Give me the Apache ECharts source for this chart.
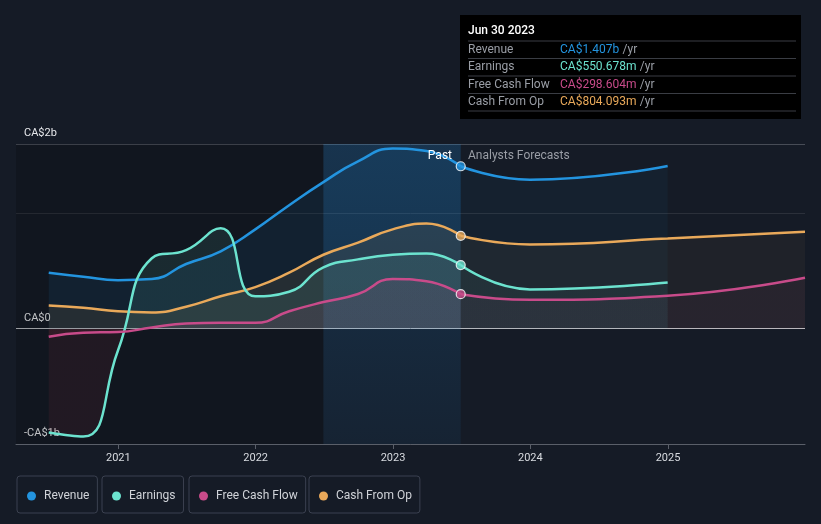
<!DOCTYPE html>
<html><head><meta charset="utf-8">
<script src="https://cdn.jsdelivr.net/npm/echarts@6/dist/echarts.min.js"></script>
<style>html,body{margin:0;padding:0;background:#151b26;}#c{width:821px;height:524px;}</style>
</head><body><div id="c"></div>
<script>
// ---- data (values in CA$ billions) ----
const pastDates = ['2020-06-30','2020-09-30','2020-12-31','2021-03-31','2021-06-30','2021-09-30','2021-12-31','2022-03-31','2022-06-30','2022-09-30','2022-12-31','2023-03-31','2023-06-30'];
const revenuePast  = [0.485,0.45,0.42,0.43,0.56,0.67,0.86,1.07,1.27,1.45,1.56,1.54,1.407];
const earningsPast = [-0.90,-0.935,-0.19,0.61,0.68,0.87,0.28,0.32,0.53,0.60,0.64,0.65,0.550678];
const fcfPast      = [-0.07,-0.035,-0.03,0.01,0.045,0.05,0.05,0.15,0.23,0.30,0.43,0.41,0.298604];
const cfoPast      = [0.20,0.18,0.15,0.14,0.19,0.28,0.36,0.485,0.64,0.745,0.86,0.91,0.804093];

const fcDatesShort = ['2023-06-30','2023-12-31','2024-12-31'];
const fcDatesLong  = ['2023-06-30','2023-12-31','2024-12-31','2025-12-31'];
const revenueFc  = [1.407,1.29,1.41];
const earningsFc = [0.550678,0.34,0.40];
const fcfFc      = [0.298604,0.25,0.285,0.44];
const cfoFc      = [0.804093,0.73,0.78,0.84];

const seriesNames = ['Revenue','Earnings','Free Cash Flow','Cash From Op'];
const seriesColors = ['#2394df','#6ce3cf','#c84b8a','#e9a95a'];
const yTicks = [-1,0,1,1.6];
const yTickLabels = ['-CA$1b','CA$0','','CA$2b'];
const tooltipDate = 'Jun 30 2023';
const bandStart = '2022-06-30', bandEnd = '2023-06-30';

const pair = (d, v) => d.map((x, i) => [x, v[i]]);
const pastVals = [revenuePast, earningsPast, fcfPast, cfoPast];
const fcVals = [revenueFc, earningsFc, fcfFc, cfoFc];
const fcDates = [fcDatesShort, fcDatesShort, fcDatesLong, fcDatesLong];

function fmt(v){ return v >= 1 ? 'CA$' + v.toFixed(3) + 'b' : 'CA$' + (v*1000).toFixed(3) + 'm'; }
function hexA(h,a){const r=parseInt(h.slice(1,3),16),g=parseInt(h.slice(3,5),16),b=parseInt(h.slice(5,7),16);return `rgba(${r},${g},${b},${a})`;}

const chart = echarts.init(document.getElementById('c'));
const order = [0,3,1,2];
const series = [];
order.forEach(i => {
  const col = seriesColors[i];
  let areaPast = hexA(col, 0.13), areaFc = hexA(col, 0.07);
  if (i === 1 || i === 2) {
    const mk = (a) => new echarts.graphic.LinearGradient(0,144,0,444,[
      {offset:0,color:hexA(col,a)},{offset:0.616,color:hexA(col,a)},
      {offset:0.617,color:hexA('#c8384a',a*0.9)},{offset:1,color:hexA('#c8384a',a*0.9)}], true);
    areaPast = mk(0.14); areaFc = mk(0.07);
  }
  series.push({
    name: seriesNames[i], type:'line', data: pair(pastDates, pastVals[i]),
    smooth: 0.5, showSymbol:false, z: 3,
    lineStyle:{color:col,width:2.5}, itemStyle:{color:col},
    areaStyle:{color:areaPast}
  });
  series.push({
    name: seriesNames[i], type:'line', data: pair(fcDates[i], fcVals[i]),
    smooth: 0.5, showSymbol:false, z: 3,
    lineStyle:{color:col,width:2.5}, itemStyle:{color:col},
    areaStyle:{color:areaFc}
  });
});
// end-of-past markers
series.push({
  type:'scatter', z:5, symbolSize:9,
  data: pastVals.map((v,i)=>({value:[pastDates[pastDates.length-1], v[v.length-1]], itemStyle:{color:seriesColors[i]}})),
  itemStyle:{borderColor:'#ffffff',borderWidth:1.2}, silent:true
});
// background regions
series.push({
  type:'line', data:[], silent:true, z:1,
  markArea:{silent:true, data:[
    [{xAxis:'2020-04-04', itemStyle:{color:'rgba(0,0,0,0.16)'}},{xAxis:bandStart}],
    [{xAxis:bandStart, itemStyle:{color:new echarts.graphic.LinearGradient(0,0,0,1,[{offset:0,color:'rgba(33,140,220,0.22)'},{offset:1,color:'rgba(33,140,220,0.07)'}])}},{xAxis:bandEnd}]
  ]}
});

const rowY = [49.5,67,84.5,102];
const graphic = [
  {type:'rect', shape:{x:460,y:15,width:341,height:104}, style:{fill:'#000000'}, z:10},
  {type:'text', x:468, y:31, style:{text:tooltipDate, fill:'#ffffff', font:'500 12px Roboto', textVerticalAlign:'middle'}, z:11},
  {type:'text', x:452, y:156, style:{text:'Past', fill:'#ffffff', font:'12px Roboto', textAlign:'right', textVerticalAlign:'middle'}, z:11},
  {type:'text', x:468, y:156, style:{text:'Analysts Forecasts', fill:'#9a9ea6', font:'12px Roboto', textVerticalAlign:'middle'}, z:11}
];
[41,58.5,76,93.5,111].forEach(y => graphic.push({type:'line', shape:{x1:468,y1:y,x2:796,y2:y}, style:{stroke:'#3a3d44',lineWidth:1}, z:11}));
seriesNames.forEach((n,i) => {
  const v = pastVals[i][pastVals[i].length-1];
  graphic.push({type:'text', x:468, y:rowY[i], style:{text:n, fill:'#9a9ea6', font:'12px Roboto', textVerticalAlign:'middle'}, z:11});
  graphic.push({type:'text', x:560, y:rowY[i], style:{
    text:'{v|'+fmt(v)+'} {u|/yr}', textVerticalAlign:'middle',
    rich:{v:{fill:seriesColors[i], font:'12px Roboto'}, u:{fill:'#9a9ea6', font:'12px Roboto'}}}, z:11});
});

const legendLefts = [17,102,189,309];
const legends = seriesNames.map((n,i) => ({
  data:[n], left:legendLefts[i], top:476, orient:'horizontal',
  icon:'circle', itemWidth:9, itemHeight:9, itemGap:0,
  padding:[14,8,11,10], borderColor:'#3b4150', borderWidth:1, borderRadius:3,
  textStyle:{color:'#d0d3d8', fontSize:12, fontFamily:'Roboto', padding:[0,0,0,3]},
  selectedMode:false
}));

chart.setOption({
  backgroundColor:'#151b26',
  animation:false,
  grid:{left:16,right:16,top:144,bottom:80},
  legend: legends,
  xAxis:{type:'time', min:'2020-04-04', max:'2025-12-31',
    minInterval:365*86400000, maxInterval:366*86400000,
    axisLine:{onZero:false, lineStyle:{color:'#5a5f69'}},
    axisTick:{show:true, length:5, lineStyle:{color:'#5a5f69'}},
    axisLabel:{color:'#d8dbe0', fontSize:11, fontFamily:'Roboto', margin:9, formatter:'{yyyy}'},
    splitLine:{show:false}
  },
  yAxis:{type:'value', min:-1, max:1.6, interval:1,
    axisLine:{show:false}, axisTick:{show:false},
    axisLabel:{inside:true, margin:8, verticalAlign:'bottom', padding:[0,0,5,0], color:'#e6e8eb', fontSize:11, fontFamily:'Roboto',
      formatter:(v)=>{ const k = yTicks.findIndex(t=>Math.abs(t-v)<1e-6); return k>=0 ? yTickLabels[k] : ''; }},
    splitLine:{show:true, lineStyle:{color:['#4a4f59','#b8bbc0','#2b303a','#474c56'], width:1}}
  },
  series: series,
  graphic: graphic
});
</script></body></html>
